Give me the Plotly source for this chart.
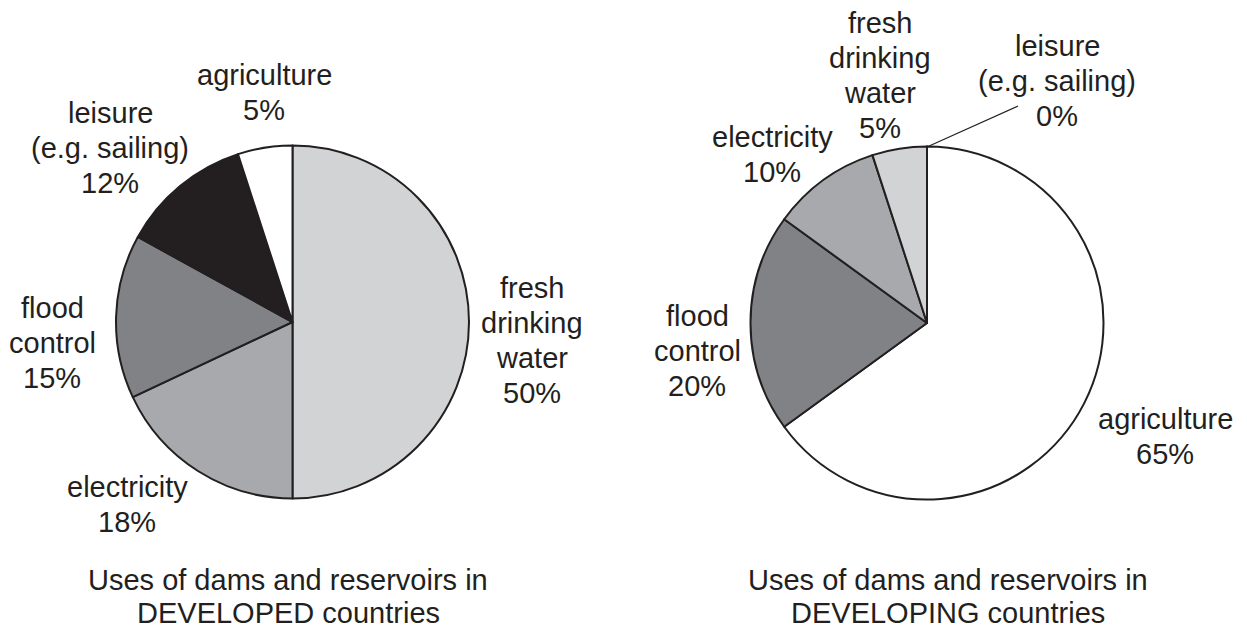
import plotly.graph_objects as go

# ---- data ----
dev_labels = ["fresh\ndrinking\nwater", "electricity", "flood\ncontrol", "leisure\n(e.g. sailing)", "agriculture"]
dev_values = [50, 18, 15, 12, 5]
dev_title = ["Uses of dams and reservoirs in", "DEVELOPED countries"]

dvg_labels = ["agriculture", "flood\ncontrol", "electricity", "fresh\ndrinking\nwater", "leisure\n(e.g. sailing)"]
dvg_values = [65, 20, 10, 5, 0]
dvg_title = ["Uses of dams and reservoirs in", "DEVELOPING countries"]

color_map = {
    "fresh\ndrinking\nwater": "#d1d3d4",
    "electricity": "#a7a9ac",
    "flood\ncontrol": "#808285",
    "leisure\n(e.g. sailing)": "#231f20",
    "agriculture": "#ffffff",
}

# ---- layout helpers (page has an 8px body margin) ----
OFF = 8
W, H = 1247 - OFF, 630 - OFF

def px_to_paper(x, y):
    return (x - OFF) / W, 1 - (y - OFF) / H

def domain(cx, cy, r):
    return dict(x=[(cx - r - OFF) / W, (cx + r - OFF) / W],
                y=[1 - (cy + r - OFF) / H, 1 - (cy - r - OFF) / H])

FONT = dict(family="Liberation Sans, Arial, Helvetica, sans-serif", size=29, color="#231f20")
LINE = "#231f20"
LH = 35  # label line spacing in px

left_c = (292.5, 322, 176.5)
right_c = (927, 323, 176.5)

fig = go.Figure()
fig.add_trace(go.Pie(
    labels=dev_labels, values=dev_values, sort=False, direction="clockwise", rotation=0,
    marker=dict(colors=[color_map[l] for l in dev_labels], line=dict(color=LINE, width=2)),
    textinfo="none", hoverinfo="label+percent", showlegend=False,
    domain=domain(*left_c),
))
fig.add_trace(go.Pie(
    labels=dvg_labels, values=dvg_values, sort=False, direction="clockwise", rotation=0,
    marker=dict(colors=[color_map[l] for l in dvg_labels], line=dict(color=LINE, width=2)),
    textinfo="none", hoverinfo="label+percent", showlegend=False,
    domain=domain(*right_c),
))

# label block centres (pixels)
dev_pos = [(532, 340), (127, 504), (52, 343), (110, 148), (264, 93)]
dvg_pos = [(880, 75), (697, 351), (772, 155), (880, 75), (1057, 81)]
dvg_pos = [(1165, 436), (697, 351), (772, 155), (880, 75), (1057, 81)]

annotations = []

def add_lines(lines, x, yc, spacing):
    n = len(lines)
    for i, t in enumerate(lines):
        y = yc + (i - (n - 1) / 2) * spacing
        px, py = px_to_paper(x, y)
        annotations.append(dict(x=px, y=py, xref="paper", yref="paper", text=t,
                                showarrow=False, xanchor="center", yanchor="middle",
                                font=FONT, align="center"))

for names, vals, pos in [(dev_labels, dev_values, dev_pos), (dvg_labels, dvg_values, dvg_pos)]:
    for n, v, (x, y) in zip(names, vals, pos):
        add_lines(n.split("\n") + [f"{v}%"], x, y, LH)

add_lines(dev_title, 288, 596.5, 33)
add_lines(dvg_title, 948, 596.5, 33)

# leader line for the 0% slice
x0, y0 = px_to_paper(right_c[0] + 1, right_c[1] - right_c[2])
x1, y1 = px_to_paper(1018, 106)
shapes = [dict(type="line", xref="paper", yref="paper", x0=x0, y0=y0, x1=x1, y1=y1,
               line=dict(color=LINE, width=1.2))]

fig.update_layout(
    width=W, height=H, margin=dict(l=0, r=0, t=0, b=0),
    paper_bgcolor="white", plot_bgcolor="white",
    annotations=annotations, shapes=shapes, showlegend=False,
)
fig.write_html("out.html")
